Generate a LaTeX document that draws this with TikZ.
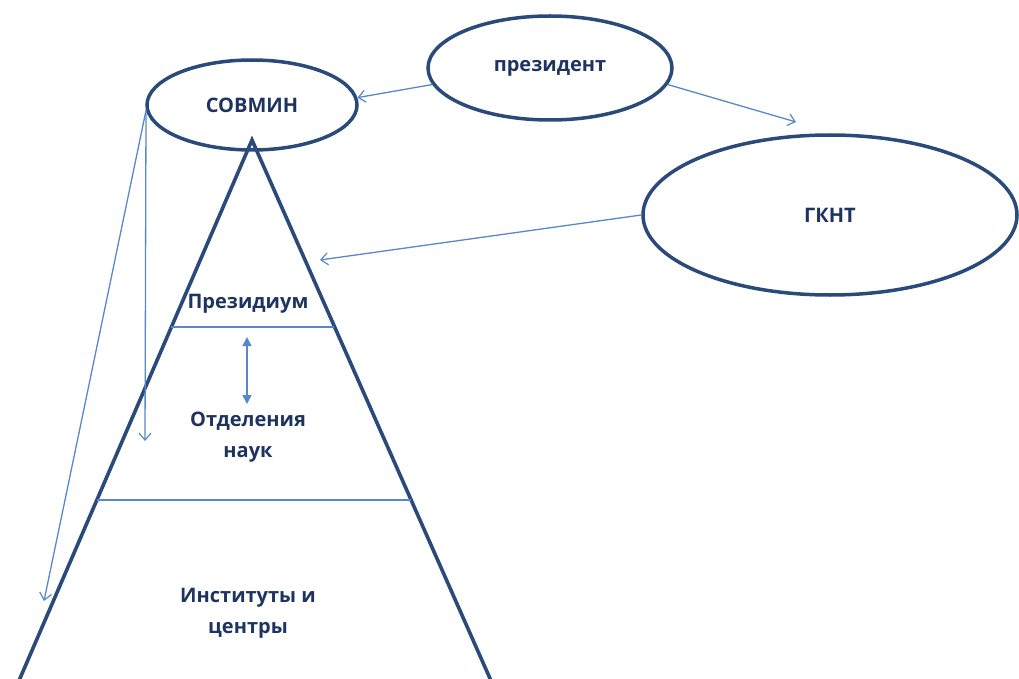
\documentclass[tikz,border=0pt]{standalone}
\usepackage{fontspec}
\setmainfont{Open Sans}
\usetikzlibrary{shapes.geometric,arrows.meta}
\definecolor{darkline}{RGB}{42,74,122}
\definecolor{thinline}{RGB}{88,136,200}
\definecolor{txt}{RGB}{30,52,96}
\tikzset{
  oval/.style={ellipse,draw=darkline,line width=3.5pt,inner sep=0pt},
  lbl/.style={text=txt,font=\fontsize{20}{31}\selectfont\bfseries,align=center},
  thin/.style={draw=thinline,line width=1.3pt,-{Straight Barb[length=7pt,width=12pt,line width=1.2pt]}},
  heavy/.style={draw=darkline,line width=3.6pt},
  rule/.style={draw=thinline,line width=1.1pt},
}
\begin{document}
\begin{tikzpicture}[x=1pt,y=-1pt]
\useasboundingbox (0,0) rectangle (1019,679);
% ovals
\node[oval,minimum width=210pt,minimum height=90pt] (sovmin) at (252,105) {};
\node[lbl] at (sovmin.center) {СОВМИН};
\node[oval,minimum width=244pt,minimum height=104pt] (pres) at (550,68) {};
\node[lbl] at (pres.center) {президент};
\node[oval,minimum width=374pt,minimum height=160pt] (gknt) at (830,215) {};
\node[lbl] at (gknt.center) {ГКНТ};
% pyramid
\coordinate (apex) at (252,140);
\coordinate (bl) at (18,683);
\coordinate (br) at (492,683);
\draw[heavy,line join=miter] (bl) -- (apex) -- (br);
\coordinate (l1a) at (171,327); \coordinate (l1b) at (334,327);
\coordinate (l2a) at (97,500); \coordinate (l2b) at (411,500);
\draw[rule] (l1a) -- (l1b);
\draw[rule] (l2a) -- (l2b);
% level labels
\node[lbl] (prez) at (248,304) {Президиум};
\node[lbl] (otd) at (248,437) {Отделения\\наук};
\node[lbl] (inst) at (248,613) {Институты и\\центры};
% connectors
\coordinate (gkntTip) at (796,122);
\coordinate (pyrTip) at (320,260);
\coordinate (downTip) at (145,441);
\coordinate (blTip) at (44,601);
\coordinate (dA) at (247,337);
\coordinate (dB) at (247,404);
\draw[thin] (pres.188) -- (sovmin.4);
\draw[thin] (pres.352) -- (gkntTip);
\draw[thin] (gknt.west) -- (pyrTip);
\draw[thin] (sovmin.183) -- (downTip);
\draw[thin] (sovmin.183) -- (blTip);
\draw[draw=thinline,line width=1.6pt,{Triangle[length=9pt,width=9pt]}-{Triangle[length=9pt,width=9pt]}] (dA) -- (dB);
\end{tikzpicture}
\end{document}
